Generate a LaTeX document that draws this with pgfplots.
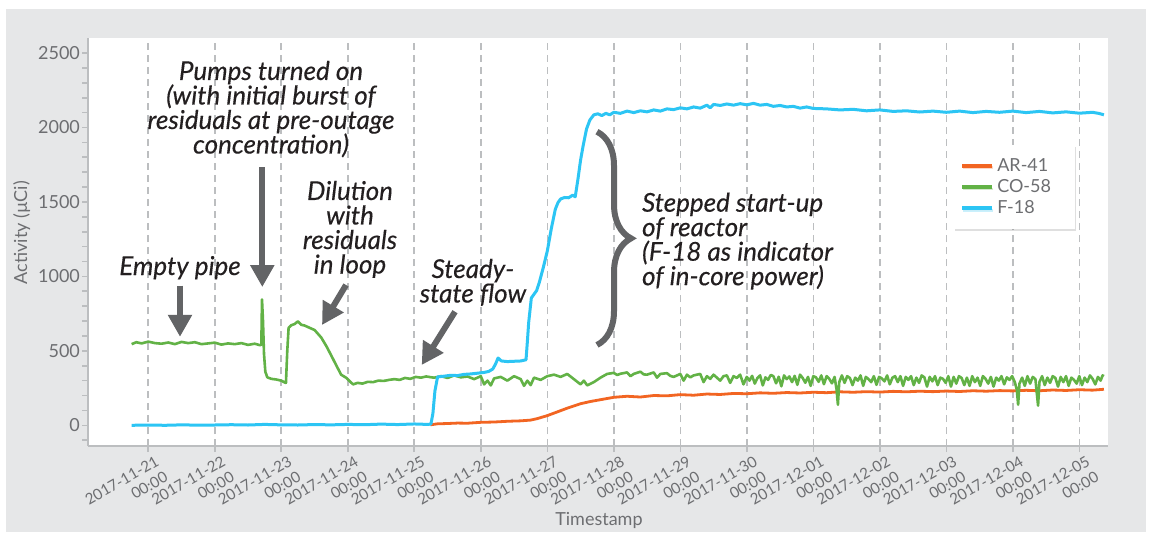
\documentclass[border=0pt]{standalone}
\usepackage{fontspec}
\setmainfont{Lato}
\newfontfamily\annfont{Lato}[FakeBold=0.3]
\usepackage{pgfplots}
\pgfplotsset{compat=1.18}
\usetikzlibrary{arrows.meta,decorations.pathreplacing,shadows}
\definecolor{bggray}{HTML}{E6E7E8}
\definecolor{axgray}{HTML}{BCBEC0}
\definecolor{gridgray}{HTML}{BCBEC0}
\definecolor{labgray}{HTML}{6D6E71}
\definecolor{anncol}{HTML}{636466}
\definecolor{txtcol}{HTML}{231F20}
\definecolor{arorange}{HTML}{F26522}
\definecolor{cogreen}{HTML}{62B246}
\definecolor{fblue}{HTML}{2CC5F4}
\newcommand{\pxy}[2]{({(#1-88.3)*0.5pt},{(446-#2)*0.5pt})}

\pgfplotstableread{
x y
4.24 3
4.35 10
4.5 12
4.65 15
4.8 14
5.0 20
5.2 22
5.4 27
5.6 30
5.75 35
5.85 45
6.0 65
6.15 90
6.3 115
6.5 145
6.65 160
6.8 172
7.0 188
7.2 195
7.4 190
7.6 200
7.8 198
8.0 206
8.2 202
8.4 210
8.6 207
8.8 214
9.0 212
9.2 218
9.4 215
9.6 220
9.8 217
10.0 222
10.2 219
10.4 225
10.6 222
10.8 226
11.0 223
11.2 228
11.4 225
11.6 229
11.8 226
12.0 230
12.2 227
12.4 232
12.6 229
12.8 233
13.0 231
13.2 235
13.4 232
13.6 237
13.8 234
14.0 239
14.2 236
14.37 242
}\arData

\pgfplotstableread{
x y
-0.25 545
-0.18 558
-0.1 550
0.0 562
0.1 552
0.2 548
0.3 556
0.4 545
0.5 560
0.6 552
0.7 558
0.8 545
0.9 550
1.0 555
1.1 542
1.2 550
1.3 545
1.4 552
1.5 540
1.6 548
1.68 538
1.70 542
1.71 845
1.725 700
1.74 480
1.76 360
1.79 322
1.85 312
1.92 308
2.0 300
2.05 288
2.07 285
2.09 500
2.11 655
2.15 672
2.20 680
2.25 698
2.30 675
2.35 670
2.40 660
2.45 650
2.50 640
2.55 615
2.60 590
2.68 530
2.75 470
2.83 400
2.90 340
2.98 318
3.03 295
3.08 275
3.15 285
3.22 280
3.30 292
3.38 290
3.46 300
3.54 298
3.62 305
3.70 310
3.78 305
3.86 318
3.94 312
4.02 325
4.10 320
4.18 328
4.26 322
4.3 320
4.4 330
4.5 318
4.6 335
4.7 322
4.8 328
4.9 310
5.0 330
5.05 275
5.1 300
5.15 268
5.2 315
5.3 325
5.4 300
5.5 330
5.6 310
5.65 265
5.7 300
5.75 270
5.8 320
5.9 305
6.0 330
6.1 340
6.2 325
6.3 345
6.4 310
6.5 275
6.55 300
6.6 268
6.7 290
6.8 320
6.9 345
7.0 352
7.05 338
7.1 346
7.2 355
7.25 330
7.3 345
7.4 360
7.45 342
7.5 340
7.6 355
7.65 320
7.7 345
7.8 350
7.85 332
7.9 325
8.0 345
8.05 300
8.1 340
8.15 322
8.2 335
8.3 345
8.35 290
8.4 330
8.45 312
8.5 340
8.6 300
8.65 330
8.7 335
8.75 285
8.8 330
8.85 318
8.9 340
8.95 275
9.0 325
9.04 300
9.08 332
9.12 280
9.16 318
9.2 335
9.24 268
9.28 322
9.32 305
9.36 338
9.4 330
9.44 282
9.48 326
9.52 262
9.56 335
9.6 310
9.64 328
9.68 290
9.72 332
9.76 272
9.8 340
9.84 318
9.88 286
9.92 325
9.96 265
10.0 330
10.04 322
10.08 292
10.12 335
10.16 276
10.2 330
10.24 312
10.28 282
10.32 325
10.35 240
10.37 138
10.39 290
10.43 335
10.47 285
10.51 330
10.55 318
10.59 270
10.63 320
10.67 300
10.71 335
10.75 265
10.79 325
10.83 310
10.87 290
10.91 330
10.95 272
10.99 325
11.03 315
11.07 295
11.11 335
11.15 275
11.19 320
11.23 330
11.27 290
11.31 330
11.35 265
11.39 325
11.43 305
11.47 330
11.51 270
11.55 320
11.59 285
11.63 335
11.67 322
11.71 260
11.75 325
11.79 295
11.83 330
11.87 270
11.91 320
11.95 312
11.99 285
12.03 330
12.07 260
12.11 325
12.15 280
12.19 330
12.23 318
12.27 270
12.31 320
12.35 265
12.39 330
12.43 290
12.47 320
12.51 265
12.55 330
12.59 312
12.63 280
12.67 325
12.71 260
12.75 320
12.79 300
12.83 330
12.87 275
12.91 322
12.95 305
12.99 330
13.03 290
13.06 240
13.08 138
13.1 280
13.14 320
13.18 265
13.22 330
13.26 280
13.3 325
13.34 310
13.36 220
13.38 132
13.4 290
13.44 330
13.48 270
13.52 320
13.56 285
13.6 330
13.64 318
13.68 260
13.72 325
13.76 290
13.8 330
13.84 265
13.88 320
13.92 305
13.96 280
14.0 330
14.04 270
14.08 320
14.12 290
14.16 335
14.2 312
14.24 275
14.28 325
14.32 300
14.35 335
14.37 330
}\coData

\pgfplotstableread{
x y
-0.25 0
0.0 2
0.25 0
0.5 3
0.75 1
1.0 2
1.25 4
1.5 2
1.75 6
2.0 3
2.25 2
2.5 5
2.75 3
3.0 6
3.25 4
3.5 8
3.75 5
4.0 9
4.2 6
4.25 8
4.28 80
4.31 230
4.35 325
4.45 330
4.55 336
4.65 334
4.75 342
4.85 345
4.95 350
5.05 355
5.12 362
5.18 378
5.22 410
5.26 452
5.31 432
5.40 428
5.50 430
5.60 432
5.68 440
5.70 560
5.72 690
5.76 855
5.80 880
5.84 905
5.88 960
5.94 1060
6.00 1170
6.06 1320
6.12 1450
6.16 1495
6.20 1520
6.26 1530
6.32 1528
6.38 1545
6.42 1535
6.46 1650
6.50 1780
6.54 1880
6.59 1990
6.64 2050
6.70 2085
6.76 2092
6.82 2080
6.88 2095
6.94 2085
7.00 2102
7.10 2095
7.20 2110
7.30 2100
7.40 2112
7.50 2105
7.60 2118
7.70 2110
7.80 2125
7.90 2120
8.00 2132
8.10 2125
8.20 2138
8.30 2130
8.40 2150
8.45 2132
8.50 2155
8.60 2148
8.70 2158
8.80 2150
8.90 2160
9.00 2152
9.10 2162
9.20 2150
9.30 2155
9.40 2142
9.50 2148
9.60 2138
9.70 2142
9.80 2130
9.90 2138
10.00 2128
10.2 2125
10.4 2118
10.6 2122
10.8 2112
11.0 2118
11.2 2108
11.4 2112
11.6 2104
11.8 2110
12.0 2102
12.2 2110
12.4 2100
12.6 2108
12.8 2102
13.0 2110
13.2 2100
13.4 2108
13.6 2098
13.8 2105
14.0 2096
14.2 2102
14.3 2094
14.37 2085
}\fData

\begin{document}
\begin{tikzpicture}
\useasboundingbox \pxy{0}{536} rectangle \pxy{1150}{0};
\fill[white] \pxy{0}{536} rectangle \pxy{1150}{0};
\fill[bggray] \pxy{6}{532} rectangle \pxy{1146}{9};
\begin{axis}[
  at={(0,0)}, anchor=south west,
  scale only axis, width=509.6pt, height=204pt,
  xmin=-0.902, xmax=14.424, ymin=-139, ymax=2601,
  axis background/.style={fill=white},
  axis lines*=left,
  axis line style={axgray, line width=1pt},
  ytick={0,500,...,2500},
  minor ytick={-100,0,...,2500},
  xtick={0,...,14},
  xticklabels={{2017-11-21\\00:00},{2017-11-22\\00:00},{2017-11-23\\00:00},{2017-11-24\\00:00},{2017-11-25\\00:00},{2017-11-26\\00:00},{2017-11-27\\00:00},{2017-11-28\\00:00},{2017-11-29\\00:00},{2017-11-30\\00:00},{2017-12-01\\00:00},{2017-12-02\\00:00},{2017-12-03\\00:00},{2017-12-04\\00:00},{2017-12-05\\00:00}},
  xmajorgrids,
  major x grid style={gridgray, dash pattern=on 3.5pt off 2.5pt, line width=0.8pt},
  tick align=outside,
  major tick length=3pt, minor tick length=3pt,
  y tick style={axgray, line width=0.8pt},
  x tick style={gridgray, line width=0.8pt},
  /pgf/number format/assume math mode=true,
  /pgf/number format/1000 sep={},
  yticklabel style={font=\fontsize{9}{9}\selectfont, text=labgray, inner sep=1pt},
  xticklabel style={xshift=3.5pt, rotate=30, anchor=north east, align=right, font=\fontsize{7.6}{9}\selectfont, text=labgray, inner sep=1pt},
  xlabel={Timestamp},
  xlabel style={at={(axis description cs:0.501,-0.196)}, anchor=base, font=\fontsize{9}{9}\selectfont, text=labgray},
  ylabel={Activity (µCi)},
  ylabel style={at={(axis description cs:-0.0653,0.523)}, anchor=center, font=\fontsize{9}{9}\selectfont, text=labgray},
  legend style={at={(0.968,0.738)}, anchor=north east, draw=none, fill=white,
    drop shadow={shadow xshift=0.6pt, shadow yshift=-1pt, opacity=0.25},
    font=\fontsize{9}{9}\selectfont, text=labgray, inner xsep=3pt, inner ysep=5pt, row sep=0pt,
    nodes={inner xsep=1.6pt, inner ysep=1.5pt, text height=6.6pt, text depth=1pt, text width=34pt}},
  legend cell align=left,
  legend image code/.code={\draw[#1, line width=2pt] (0pt,0pt) -- (15pt,0pt);},
]
\addplot[arorange, line width=1.4pt, line join=round] table {\arData};
\addplot[cogreen, line width=1.3pt, line join=round] table {\coData};
\addplot[fblue, line width=1.5pt, line join=round] table {\fData};
\legend{AR-41, CO-58, F-18}
\end{axis}

% annotations
\begin{scope}[every node/.style={font=\annfont\fontsize{13}{13}\selectfont\itshape, text=txtcol, inner sep=0pt, anchor=base}]
\node at \pxy{271}{80} {Pumps turned on};
\node at \pxy{271}{104.5} {(with initial burst of};
\node at \pxy{271}{129} {residuals at pre-outage};
\node at \pxy{271}{153.5} {concentration)};
\node at \pxy{180}{275} {Empty pipe};
\node at \pxy{350}{200} {Dilution};
\node at \pxy{350}{224.5} {with};
\node at \pxy{350}{249} {residuals};
\node at \pxy{350}{273.5} {in loop};
\node at \pxy{473}{278} {Steady-};
\node at \pxy{473}{302.5} {state flow};
\node[anchor=base west] at \pxy{641.7}{211.7} {Stepped start-up};
\node[anchor=base west] at \pxy{641.7}{236.2} {of reactor};
\node[anchor=base west] at \pxy{641.7}{260.7} {(F-18 as indicator};
\node[anchor=base west] at \pxy{641.7}{285.2} {of in-core power)};
\end{scope}
\begin{scope}[anncol, line width=3pt, -{Triangle[width=11.5pt,length=11pt]}]
\draw \pxy{180}{285.5} -- \pxy{180}{336.8};
\draw \pxy{262.3}{167.5} -- \pxy{262.3}{287};
\draw \pxy{346}{285} -- \pxy{322}{325};
\draw \pxy{455}{311.7} -- \pxy{421.7}{365};
\end{scope}
\draw[anncol, line width=3pt, decorate, decoration={brace, amplitude=17pt}] \pxy{597}{131.7} -- \pxy{597}{345};
\end{tikzpicture}
\end{document}
